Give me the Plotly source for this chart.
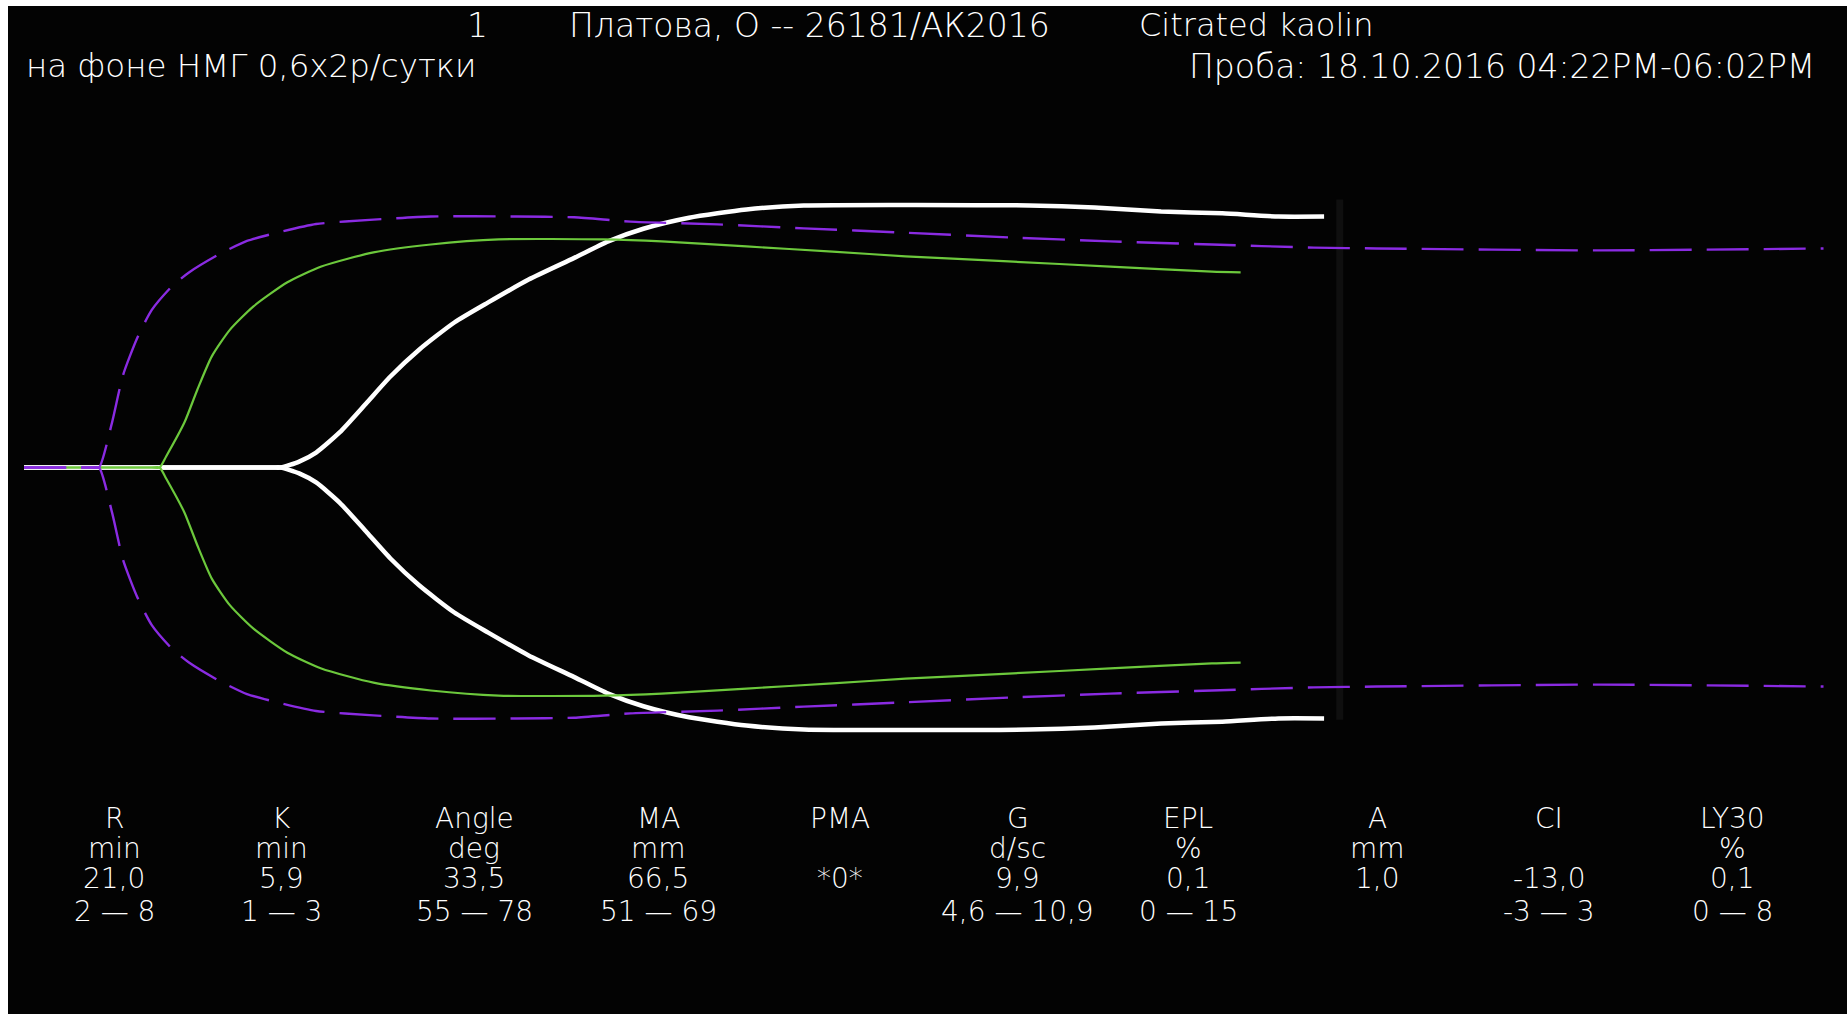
import plotly.graph_objects as go

# ---------------- data (time in minutes, amplitude in mm) ----------------
# Patient tracing (white)
white_t = [0, 19.0, 19.7, 21.1, 22.4, 24.2, 26.3, 28.1, 30.3, 33.0, 35.6, 38.7, 42.2,
           44.8, 47.5, 51.0, 55.4, 59.8, 77.1, 82.1, 87.2, 91.9, 96.2, 99.7]
white_a = [0, 0, 0, 1.5, 3.8, 8.9, 16.5, 23.1, 29.9, 36.8, 41.9, 47.7, 53.2,
           57.4, 60.6, 63.4, 65.5, 66.5, 66.5, 66.0, 65.0, 64.5, 63.7, 63.7]

# Reference tracing (green)
green_t = [0, 9.8, 10.4, 10.9, 12.3, 13.3, 14.4, 15.8, 17.6, 20.2, 22.8, 26.8, 31.2,
           36.4, 44.4, 48.9, 55.4, 62.0, 67.6, 75.5, 83.3, 91.1, 93.3]
green_a = [0, 0, 0, 2.8, 11.4, 19.8, 28.2, 35.0, 40.9, 47.0, 51.0, 54.6, 56.6,
           57.9, 57.9, 57.4, 56.1, 54.8, 53.6, 52.3, 51.0, 49.7, 49.5]

# Normal envelope (purple dashed)
purple_t = [0, 5.2, 5.75, 6.75, 7.6, 8.7, 9.8, 11.35, 12.65, 14.9, 17.1, 19.3, 22.4,
            26.8, 31.2, 37.8, 42.2, 46.5, 53.2, 59.8, 67.6, 75.5, 83.3, 91.1,
            98.9, 103.7, 120.9, 138.0]
purple_a = [0, 0, 0, 11.4, 23.5, 33.0, 40.0, 46.0, 49.5, 54.0, 57.5, 59.5, 61.8,
            62.9, 63.7, 63.7, 63.5, 62.4, 61.7, 60.7, 59.6, 58.4, 57.4, 56.6,
            55.8, 55.6, 55.1, 55.6]

# Header texts
header_num = "1"
header_patient = "Платова, О -- 26181/АК2016"
header_assay = "Citrated kaolin"
header_note = "на фоне НМГ 0,6х2р/сутки"
header_sample = "Проба: 18.10.2016 04:22PM-06:02PM"

# Parameter table
param_names = ["R", "K", "Angle", "MA", "PMA", "G", "EPL", "A", "CI", "LY30"]
param_units = ["min", "min", "deg", "mm", "", "d/sc", "%", "mm", "", "%"]
param_values = ["21,0", "5,9", "33,5", "66,5", "*0*", "9,9", "0,1", "1,0", "-13,0", "0,1"]
param_ranges = ["2 — 8", "1 — 3", "55 — 78", "51 — 69", "", "4,6 — 10,9", "0 — 15", "", "-3 — 3", "0 — 8"]

# ---------------- layout geometry ----------------
W, H = 1847, 1014
ML, MT = 8, 6
PW, PH = W - ML, H - MT
X0_PX, PX_PER_MIN = 24, 13.04
Y0_PX, PX_PER_MM = 467.5, 7.88

def px(x):
    return (x - ML) / PW

def py(y):
    return 1 - (y - MT) / PH

def envelope(t, a):
    xs = list(t) + [None] + list(t)
    ys = [v / 2 for v in a] + [None] + [-v / 2 for v in a]
    return xs, ys

fig = go.Figure()

# faint marker line at end of patient tracing
fig.add_shape(type="line", x0=white_t[-1] + 1.2, x1=white_t[-1] + 1.2,
              y0=-32, y1=34, line=dict(color="#0f0f0f", width=7), layer="below")

for t, a, color, width, dash in [
    (white_t, white_a, "#ffffff", 4.5, "solid"),
    (green_t, green_a, "#6cc83c", 2.2, "solid"),
    (purple_t, purple_a, "#8a2be2", 2.4, "42px,15px"),
]:
    xs, ys = envelope(t, a)
    fig.add_trace(go.Scatter(x=xs, y=ys, mode="lines",
                             line=dict(color=color, width=width, dash=dash,
                                       shape="spline", smoothing=0.6),
                             hoverinfo="skip", showlegend=False))

FONT = "DejaVu Sans"
ann = []
def add_text(text, x, y, xanchor="center", size=30):
    ann.append(dict(text=text, x=px(x), y=py(y), xref="paper", yref="paper",
                    xanchor=xanchor, yanchor="middle", showarrow=False,
                    font=dict(family=FONT, size=size, color="#ffffff", weight=300)))

add_text(header_num, 477, 25, "center", 33)
add_text(header_patient, 567, 25, "left", 33)
add_text(header_assay, 1137, 25, "left", 32)
add_text(header_note, 24, 66, "left", 32.5)
add_text(header_sample, 1817, 66, "right", 33)

col_x = [114, 281, 474, 658, 840, 1018, 1188, 1377, 1549, 1732]
row_y = [818, 848, 878, 911]
for i, cx in enumerate(col_x):
    for txt, ry in zip([param_names[i], param_units[i], param_values[i], param_ranges[i]], row_y):
        if txt:
            add_text(txt, cx, ry, "center", size=28)

xr = [(ML - X0_PX) / PX_PER_MIN, (W - X0_PX) / PX_PER_MIN]
yr = [-(H - Y0_PX) / PX_PER_MM, (Y0_PX - MT) / PX_PER_MM]

fig.update_layout(
    width=W, height=H,
    margin=dict(l=ML, r=0, t=MT, b=0, pad=0),
    paper_bgcolor="#ffffff", plot_bgcolor="#030303",
    xaxis=dict(range=xr, visible=False, showgrid=False, zeroline=False, fixedrange=True),
    yaxis=dict(range=yr, visible=False, showgrid=False, zeroline=False, fixedrange=True),
    annotations=ann,
    showlegend=False,
)

fig.write_html("out.html", config={"displayModeBar": False})
